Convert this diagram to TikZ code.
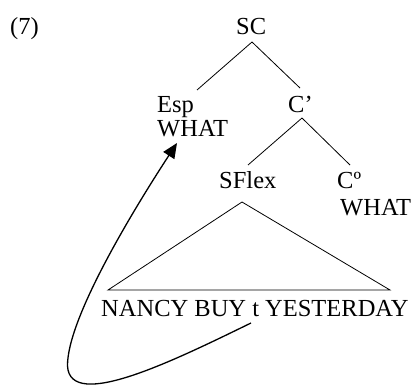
\documentclass[tikz,border=0pt]{standalone}
\usepackage{fontspec}
\setmainfont{Liberation Serif}
\usetikzlibrary{arrows.meta}
\begin{document}
\begin{tikzpicture}[x=1pt,y=-1pt,
  lbl/.style={inner sep=0pt,anchor=base west,font=\fontsize{24.5}{28}\selectfont},
  branch/.style={line width=0.8pt},
  move/.style={line width=1.3pt,-{Triangle[length=15pt,width=13pt]}}]
\useasboundingbox (0,0) rectangle (417,386);
\node[lbl] (ex) at (10,34) {(7)};
\node[lbl] (SC) at (236,34) {SC};
\node[lbl] (Esp) at (157,112) {Esp};
\node[lbl] (EspW) at (157,136) {WHAT};
\node[lbl] (Cbar) at (288,112) {C’};
\node[lbl] (SFlex) at (219,188) {SFlex};
\node[lbl] (C0) at (337,188) {Cº};
\node[lbl] (C0W) at (340,215) {WHAT};
\node[lbl] (S) at (101,316) {NANCY BUY t YESTERDAY};
\coordinate (scb) at (252,42);
\coordinate (espt) at (197,90);
\coordinate (cbart) at (300,88);
\coordinate (cbarb) at (302,118);
\coordinate (sflt) at (248,165);
\coordinate (c0t) at (350,165);
\coordinate (apex) at (242,202);
\coordinate (bl) at (108,290);
\coordinate (br) at (390,290);
\coordinate (tr) at (251,323);
\coordinate (turn) at (67.5,366);
\coordinate (goal) at (177,143);
\draw[branch] (scb) -- (espt);
\draw[branch] (scb) -- (cbart);
\draw[branch] (cbarb) -- (sflt);
\draw[branch] (cbarb) -- (c0t);
\draw[branch] (apex) -- (bl) -- (br) -- cycle;
\draw[move] (tr) .. controls (175,360) and (70,412) .. (turn)
  .. controls (67,320) and (130,215) .. (goal);
\end{tikzpicture}
\end{document}
